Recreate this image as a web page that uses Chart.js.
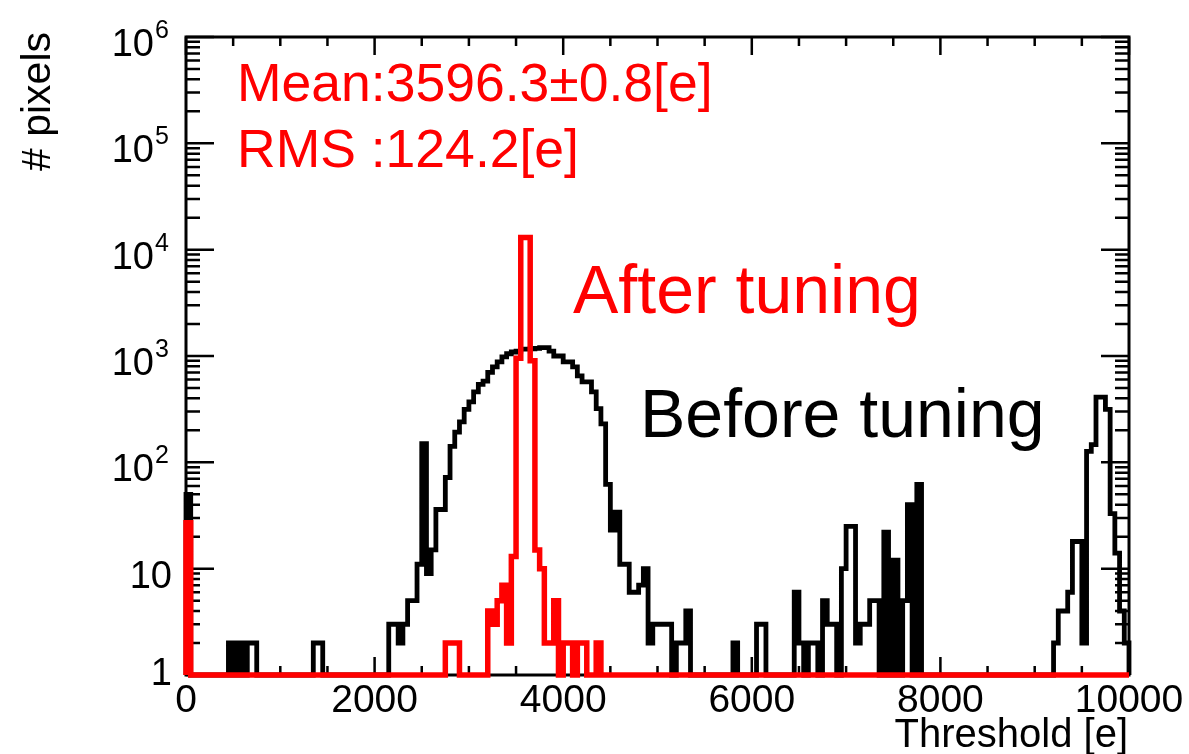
<!DOCTYPE html>
<html>
<head>
<meta charset="utf-8">
<script src="https://cdn.jsdelivr.net/npm/chart.js@4.4.1/dist/chart.umd.min.js"></script>
<style>
  html, body { margin: 0; padding: 0; background: #fff; }
  #wrap { width: 1189px; height: 754px; }
</style>
</head>
<body>
<div id="wrap"><canvas id="thr" width="1189" height="754"></canvas></div>
<script>
// threshold histograms, 50 e per bin, 200 bins from 0 to 10000
const BIN_WIDTH = 50;
const X_MIN = 0, X_MAX = 10000;
const Y_MIN = 1, Y_MAX = 1e6;

const BEFORE = [
  50, 0, 0, 0, 0, 0, 0, 0, 0, 2, 0, 2, 0, 2, 2, 0, 0, 0, 0, 0,
  0, 0, 0, 0, 0, 0, 0, 2, 2, 0, 0, 0, 0, 0, 0, 0, 0, 0, 0, 0,
  0, 0, 0, 3, 3, 2, 3, 5, 5, 11, 150, 9, 15, 36, 36, 72, 141, 192, 240, 315,
  370, 460, 540, 580, 700, 790, 880, 980, 1050, 1090, 1110, 1160, 1160, 1170, 1180, 1200, 1200, 1110, 1000, 1000,
  880, 880, 790, 650, 570, 570, 460, 320, 230, 62, 23, 34, 11, 11, 6, 6, 7, 10, 2, 3,
  3, 3, 3, 0, 2, 2, 4, 0, 0, 0, 0, 0, 0, 0, 0, 0, 2, 0, 0, 0,
  0, 3, 3, 0, 0, 0, 0, 0, 0, 6, 2, 0, 2, 2, 0, 5, 3, 3, 0, 10,
  25, 25, 2, 3, 3, 5, 5, 0, 22, 0, 12, 0, 5, 40, 0, 62, 0, 0, 0, 0,
  0, 0, 0, 0, 0, 0, 0, 0, 0, 0, 0, 0, 0, 0, 0, 0, 0, 0, 0, 0,
  0, 0, 0, 0, 2, 4, 4, 6, 18, 18, 2, 127, 147, 410, 410, 315, 33, 14, 4, 2
];

const AFTER = [
  27, 0, 0, 0, 0, 0, 0, 0, 0, 0, 0, 0, 0, 0, 0, 0, 0, 0, 0, 0,
  0, 0, 0, 0, 0, 0, 0, 0, 0, 0, 0, 0, 0, 0, 0, 0, 0, 0, 0, 0,
  0, 0, 0, 0, 0, 0, 0, 0, 0, 0, 0, 0, 0, 0, 0, 2, 2, 2, 0, 0,
  0, 0, 0, 0, 4, 3, 5, 7, 2, 13, 950, 13000, 13000, 900, 15, 10, 2, 2, 5, 0,
  2, 2, 0, 2, 2, 0, 0, 2, 0, 0, 0, 0, 0, 0, 0, 0, 0, 0, 0, 0,
  0, 0, 0, 0, 0, 0, 0, 0, 0, 0, 0, 0, 0, 0, 0, 0, 0, 0, 0, 0,
  0, 0, 0, 0, 0, 0, 0, 0, 0, 0, 0, 0, 0, 0, 0, 0, 0, 0, 0, 0,
  0, 0, 0, 0, 0, 0, 0, 0, 0, 0, 0, 0, 0, 0, 0, 0, 0, 0, 0, 0,
  0, 0, 0, 0, 0, 0, 0, 0, 0, 0, 0, 0, 0, 0, 0, 0, 0, 0, 0, 0,
  0, 0, 0, 0, 0, 0, 0, 0, 0, 0, 0, 0, 0, 0, 0, 0, 0, 0, 0, 0
];

const X_TICKS = [0, 2000, 4000, 6000, 8000, 10000];
const X_MINOR_STEP = 500;
const Y_DECADES = [0, 1, 2, 3, 4, 5, 6];

const FONT = '"Liberation Sans", Arial, Helvetica, sans-serif';

// histogram outline, empty bins sit on the axis minimum
function histPoints(counts) {
    const pts = [{ x: X_MIN, y: Y_MIN }];
    counts.forEach((c, i) => pts.push({ x: X_MIN + i * BIN_WIDTH, y: Math.max(c, Y_MIN) }));
    const last = Math.max(counts[counts.length - 1], Y_MIN);
    pts.push({ x: X_MAX, y: last }, { x: X_MAX, y: Y_MIN });
    return pts;
}

const rootFrame = {
    id: 'rootFrame',
    beforeDatasetsDraw(chart) {
        const { ctx, chartArea: a, scales: { x, y } } = chart;
        ctx.save();
        ctx.strokeStyle = '#000';
        ctx.lineWidth = 3;
        ctx.strokeRect(a.left, a.top, a.right - a.left, a.bottom - a.top);

        ctx.lineWidth = 2.5;
        ctx.beginPath();
        for (let v = X_MIN; v <= X_MAX; v += X_MINOR_STEP) {
            const px = x.getPixelForValue(v);
            const len = X_TICKS.includes(v) ? 18 : 9;
            ctx.moveTo(px, a.bottom); ctx.lineTo(px, a.bottom - len);
            ctx.moveTo(px, a.top); ctx.lineTo(px, a.top + len);
        }
        Y_DECADES.forEach(d => {
            for (let m = 1; m < 10; m++) {
                const v = m * Math.pow(10, d);
                if (v > Y_MAX) break;
                const py = y.getPixelForValue(v);
                const len = m === 1 ? 28 : 14;
                ctx.moveTo(a.left, py); ctx.lineTo(a.left + len, py);
                ctx.moveTo(a.right, py); ctx.lineTo(a.right - len, py);
            }
        });
        ctx.stroke();
        ctx.restore();
    },
    afterDraw(chart) {
        const { ctx, chartArea: a, scales: { x, y } } = chart;
        ctx.save();
        ctx.fillStyle = '#000';
        ctx.textBaseline = 'alphabetic';

        // x tick labels
        ctx.font = '39px ' + FONT;
        ctx.textAlign = 'center';
        X_TICKS.forEach(v => ctx.fillText(String(v), x.getPixelForValue(v), 712));

        // y tick labels, 10 with superscript exponent
        Y_DECADES.forEach(d => {
            const py = y.getPixelForValue(Math.pow(10, d));
            ctx.textAlign = 'right';
            ctx.font = '38px ' + FONT;
            if (d === 0) {
                ctx.fillText('1', 172, py + 10);
            } else if (d === 1) {
                ctx.fillText('10', 172, py + 19);
            } else {
                ctx.fillText('10', 154, py + 19);
                ctx.textAlign = 'left';
                ctx.font = '25px ' + FONT;
                ctx.fillText(String(d), 155, py + 1);
            }
        });

        // axis titles
        ctx.font = '40px ' + FONT;
        ctx.textAlign = 'right';
        ctx.fillText('Threshold [e]', 1128, 747);
        ctx.save();
        ctx.translate(50, 32);
        ctx.rotate(-Math.PI / 2);
        ctx.font = '41px ' + FONT;
        ctx.fillText('# pixels', 0, 0);
        ctx.restore();

        // annotations
        ctx.textAlign = 'left';
        ctx.fillStyle = '#ff0000';
        ctx.font = '53.5px ' + FONT;
        ctx.fillText('Mean:3596.3\u00b10.8[e]', 237, 101);
        ctx.fillText('RMS :124.2[e]', 237, 167);
        ctx.font = '68px ' + FONT;
        ctx.fillText('After tuning', 573, 313);
        ctx.fillStyle = '#000';
        ctx.fillText('Before tuning', 640, 437);
        ctx.restore();
    }
};

new Chart(document.getElementById('thr'), {
    type: 'line',
    data: {
        datasets: [{
            label: 'After tuning',
            data: histPoints(AFTER),
            borderColor: '#ff0000',
            borderWidth: 5.5,
            stepped: 'before',
            fill: false,
            borderJoinStyle: 'miter',
            clip: false
        }, {
            label: 'Before tuning',
            data: histPoints(BEFORE),
            borderColor: '#000000',
            borderWidth: 4.8,
            stepped: 'before',
            fill: false,
            borderJoinStyle: 'miter',
            clip: false
        }]
    },
    options: {
        responsive: false,
        animation: false,
        layout: { padding: { left: 186, right: 60, top: 37, bottom: 79 } },
        elements: { point: { radius: 0 } },
        plugins: {
            legend: { display: false },
            tooltip: { enabled: false }
        },
        scales: {
            x: { type: 'linear', min: X_MIN, max: X_MAX, display: false },
            y: { type: 'logarithmic', min: Y_MIN, max: Y_MAX, display: false }
        }
    },
    plugins: [rootFrame]
});
</script>
</body>
</html>
